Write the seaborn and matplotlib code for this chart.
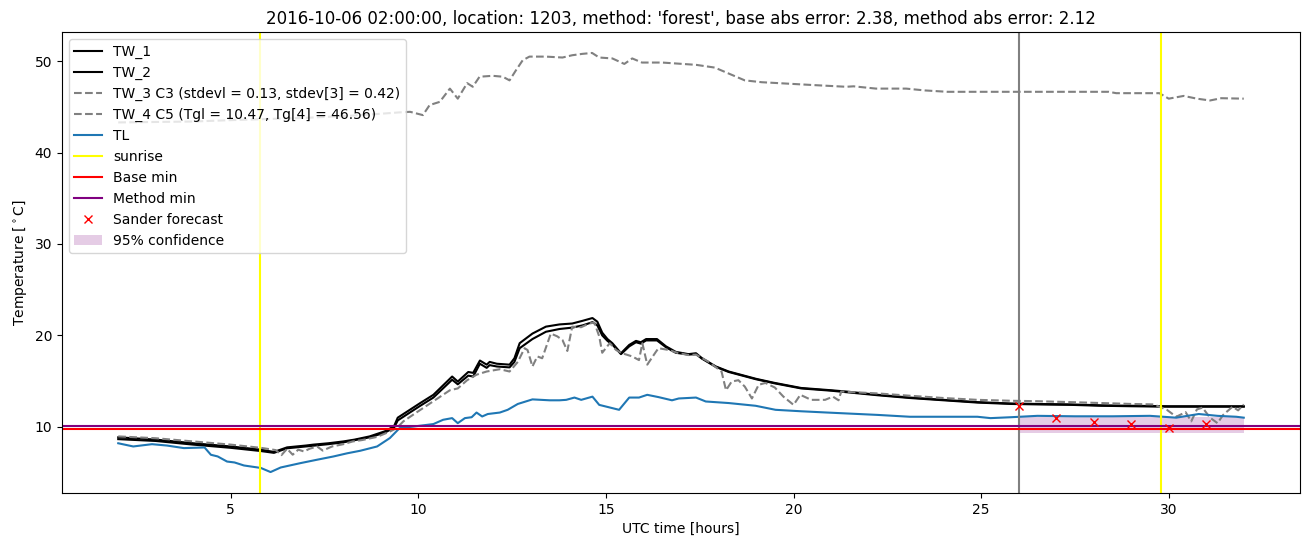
import matplotlib
matplotlib.use("Agg")
import matplotlib.pyplot as plt
import seaborn as sns
import numpy as np

# ---------------- data ----------------
t_tw1 = [2.0, 3.0, 4.0, 5.0, 5.8, 6.15, 6.5, 7.0, 7.2, 7.6, 8.0, 8.3, 8.7, 9.1, 9.35, 9.45, 9.6,
         10.05, 10.4, 10.9, 11.05, 11.33, 11.46, 11.64, 11.82, 11.9, 12.09, 12.43, 12.56, 12.7,
         13.04, 13.4, 13.76, 14.1, 14.38, 14.64, 14.77, 14.9, 15.04, 15.17, 15.4, 15.62, 15.8,
         15.93, 16.07, 16.36, 16.6, 16.86, 17.2, 17.4, 17.56, 17.93, 18.27, 19.0, 19.5, 20.2,
         21.0, 21.4, 22.25, 23.1, 24.0, 24.9, 25.8, 26.5, 27.4, 28.2, 29.0, 30.0, 31.0, 32.0]
tw1 = [8.85, 8.6, 8.2, 7.85, 7.5, 7.25, 7.75, 7.95, 8.05, 8.2, 8.4, 8.6, 8.95, 9.5, 10.05, 11.0, 11.4,
       12.6, 13.5, 15.5, 14.95, 16.0, 15.9, 17.25, 16.8, 17.1, 16.9, 16.8, 17.5, 19.15,
       20.2, 20.96, 21.2, 21.3, 21.6, 21.9, 21.5, 20.3, 19.6, 19.15, 18.05, 18.96, 19.4,
       19.25, 19.6, 19.6, 18.8, 18.2, 17.95, 18.05, 17.5, 16.6, 16.05, 15.25, 14.8, 14.25,
       14.0, 13.86, 13.5, 13.2, 12.95, 12.7, 12.55, 12.5, 12.45, 12.35, 12.3, 12.25, 12.25, 12.25]

t_tw2 = [2.0, 3.0, 4.0, 5.0, 5.8, 6.15, 6.5, 7.0, 7.6, 8.0, 8.7, 9.1, 9.35, 9.45, 9.6,
         10.05, 10.4, 10.9, 11.05, 11.33, 11.46, 11.64, 11.82, 11.9, 12.09, 12.43, 12.56, 12.7,
         13.04, 13.4, 13.76, 14.1, 14.38, 14.64, 14.77, 14.9, 15.04, 15.17, 15.4, 15.62, 15.8,
         15.93, 16.07, 16.36, 16.6, 16.86, 17.2, 17.4, 17.56, 17.93, 18.27, 19.0, 19.5, 20.2,
         21.0, 22.25, 23.1, 24.0, 24.9, 25.8, 26.5, 27.4, 28.2, 29.0, 30.0, 31.0, 32.0]
tw2 = [8.65, 8.45, 8.05, 7.7, 7.35, 7.15, 7.65, 7.85, 8.1, 8.3, 8.85, 9.35, 9.9, 10.7, 11.1,
       12.3, 13.2, 15.15, 14.65, 15.6, 15.5, 16.9, 16.45, 16.75, 16.6, 16.5, 17.1, 18.6,
       19.6, 20.4, 20.7, 20.85, 21.1, 21.45, 21.1, 20.0, 19.4, 19.0, 17.95, 18.8, 19.25,
       19.1, 19.45, 19.45, 18.7, 18.1, 17.9, 17.95, 17.45, 16.55, 16.0, 15.2, 14.75, 14.2,
       13.95, 13.45, 13.15, 12.9, 12.65, 12.5, 12.45, 12.4, 12.3, 12.25, 12.2, 12.2, 12.2]

t_tw3 = [2.0, 3.0, 4.0, 5.0, 5.8, 6.2, 6.35, 6.5, 6.65, 6.8, 6.95, 7.1, 7.3, 7.45, 7.7, 8.0, 8.25,
         8.5, 8.9, 9.25, 9.42, 9.6, 9.96, 10.4, 10.84, 11.05, 11.3, 11.55, 11.82, 12.17, 12.43,
         12.65, 12.83, 12.91, 13.04, 13.17, 13.3, 13.53, 13.7, 13.84, 13.97, 14.1, 14.34, 14.55,
         14.69, 14.82, 14.9, 15.1, 15.27, 15.43, 15.7, 15.88, 15.97, 16.1, 16.33, 16.4, 16.68,
         16.9, 17.2, 17.4, 17.74, 18.08, 18.2, 18.35, 18.53, 18.7, 18.89, 19.07, 19.25, 19.5,
         19.73, 20.0, 20.18, 20.47, 20.84, 21.05, 21.2, 21.27, 22.25, 23.1, 24.0, 24.9, 25.8,
         26.5, 27.4, 28.2, 29.0, 29.6, 29.95, 30.2, 30.45, 30.6, 30.75, 30.9, 31.1, 31.3, 31.45,
         31.7, 31.85, 32.0]
tw3 = [8.95, 8.75, 8.4, 8.05, 7.7, 7.45, 6.9, 7.6, 6.95, 7.5, 7.3, 7.6, 7.85, 7.4, 7.85, 8.1, 8.4,
       8.55, 8.9, 9.5, 9.85, 10.6, 11.6, 12.8, 14.0, 14.2, 15.1, 15.7, 16.05, 16.3, 16.05,
       17.1, 18.6, 18.4, 16.6, 17.7, 17.5, 20.2, 19.9, 19.5, 18.3, 20.95, 20.9, 21.3,
       21.4, 19.9, 18.1, 19.15, 18.4, 18.05, 17.7, 17.3, 19.15, 16.8, 18.2, 18.6, 18.4,
       18.1, 17.85, 17.9, 17.1, 16.05, 14.0, 14.95, 15.1, 14.4, 13.1, 14.6, 14.8, 14.3,
       13.3, 12.4, 13.5, 12.95, 12.95, 13.3, 12.9, 13.86, 13.65, 13.4, 13.15, 12.95, 12.85,
       12.8, 12.7, 12.6, 12.5, 12.45, 11.86, 11.1, 11.6, 10.6, 11.9, 12.1, 11.0, 10.4, 11.3,
       12.2, 11.8, 12.45]

t_tw4 = [2.0, 4.0, 5.0, 7.0, 8.5, 9.5, 9.78, 10.12, 10.3, 10.57, 10.84, 11.05, 11.3, 11.45, 11.63,
         11.98, 12.25, 12.43, 12.6, 12.78, 12.96, 13.4, 13.84, 14.1, 14.37, 14.63, 14.82, 15.17,
         15.49, 15.7, 15.96, 16.5, 17.4, 17.9, 18.27, 18.7, 19.15, 20.47, 21.4, 21.6, 22.2, 23.0,
         23.5, 24.1, 26.0, 27.5, 28.4, 28.6, 29.75, 30.0, 30.4, 30.75, 31.1, 31.4, 32.0]
tw4 = [43.3, 43.4, 43.55, 43.8, 44.1, 44.4, 44.46, 44.1, 45.2, 45.55, 47.0, 45.9, 47.6, 47.2, 48.3,
       48.4, 48.3, 47.9, 49.0, 50.1, 50.5, 50.5, 50.4, 50.65, 50.8, 50.9, 50.4, 50.3,
       49.7, 50.3, 49.85, 49.85, 49.6, 49.3, 48.65, 47.9, 47.7, 47.4, 47.2, 47.25, 47.0, 47.0,
       46.8, 46.65, 46.65, 46.65, 46.65, 46.5, 46.5, 45.9, 46.2, 45.9, 45.7, 45.95, 45.9]

t_tl = [2.0, 2.4, 2.9, 3.3, 3.75, 4.3, 4.47, 4.65, 4.9, 5.1, 5.35, 5.8, 6.06, 6.33, 6.86, 7.3, 7.73,
        8.1, 8.45, 8.9, 9.24, 9.5, 9.87, 10.4, 10.66, 10.9, 11.05, 11.24, 11.42, 11.55, 11.7,
        11.85, 12.17, 12.38, 12.65, 13.04, 13.5, 13.76, 13.94, 14.16, 14.34, 14.64, 14.82, 15.35,
        15.62, 15.88, 16.1, 16.4, 16.76, 16.94, 17.4, 17.66, 18.27, 18.99, 19.52, 20.2, 20.9,
        22.25, 23.1, 24.9, 25.25, 25.8, 26.5, 27.5, 28.5, 29.5, 30.2, 30.8, 31.3, 31.8, 32.0]
tl = [8.2, 7.85, 8.1, 7.95, 7.67, 7.74, 6.94, 6.76, 6.2, 6.1, 5.77, 5.5, 5.05, 5.55, 6.03, 6.4, 6.75,
      7.1, 7.38, 7.85, 8.77, 9.86, 10.03, 10.3, 10.77, 10.95, 10.4, 10.95, 11.05, 11.56, 11.13,
      11.4, 11.56, 11.86, 12.5, 13.0, 12.9, 12.9, 12.95, 13.2, 12.95, 13.3, 12.4, 11.86,
      13.2, 13.2, 13.5, 13.25, 12.9, 13.1, 13.2, 12.77, 12.6, 12.3, 11.86, 11.7, 11.56,
      11.3, 11.1, 11.1, 10.95, 11.05, 11.2, 11.15, 11.15, 11.2, 11.0, 11.4, 11.2, 11.1, 11.0]

sunrise_hours = [5.77, 29.79]
forecast_time = 26.0
base_min = 9.80
method_min = 10.06

sander_hours = [26, 27, 28, 29, 30, 31]
sander_temp = [12.3, 11.0, 10.5, 10.33, 9.82, 10.3]

conf_hours = [26.0, 32.0]
conf_low = [9.3, 9.3]
conf_high = [11.1, 11.1]

title = ("2016-10-06 02:00:00, location: 1203, method: 'forest', "
         "base abs error: 2.38, method abs error: 2.12")

# ---------------- plot ----------------
fig, ax = plt.subplots(figsize=(13.1, 5.47), dpi=100)
fig.subplots_adjust(left=0.0473, right=0.9924, top=0.9415, bottom=0.0987)

sns.lineplot(x=t_tw1, y=tw1, ax=ax, color="black", lw=1.5, label="TW_1")
sns.lineplot(x=t_tw2, y=tw2, ax=ax, color="black", lw=1.5, label="TW_2")
sns.lineplot(x=t_tw3, y=tw3, ax=ax, color="grey", lw=1.5, linestyle="--",
             label="TW_3 C3 (stdevl = 0.13, stdev[3] = 0.42)")
sns.lineplot(x=t_tw4, y=tw4, ax=ax, color="grey", lw=1.5, linestyle="--",
             label="TW_4 C5 (Tgl = 10.47, Tg[4] = 46.56)")
sns.lineplot(x=t_tl, y=tl, ax=ax, color="#1f77b4", lw=1.5, label="TL")

for i, s in enumerate(sunrise_hours):
    ax.axvline(s, color="yellow", lw=1.5, label="sunrise" if i == 0 else None)
ax.axvline(forecast_time, color="grey", lw=1.5)
ax.axhline(base_min, color="red", lw=1.5, label="Base min")
ax.axhline(method_min, color="purple", lw=1.5, label="Method min")

ax.plot(sander_hours, sander_temp, "x", color="red", label="Sander forecast")
ax.fill_between(conf_hours, conf_low, conf_high, color="purple", alpha=0.2, lw=0,
                label="95% confidence")

ax.set_xlabel("UTC time [hours]")
ax.set_ylabel(r"Temperature [$^\circ$C]")
ax.set_title(title)
ax.legend(loc="upper left")

fig.savefig("out.png", dpi=100)
